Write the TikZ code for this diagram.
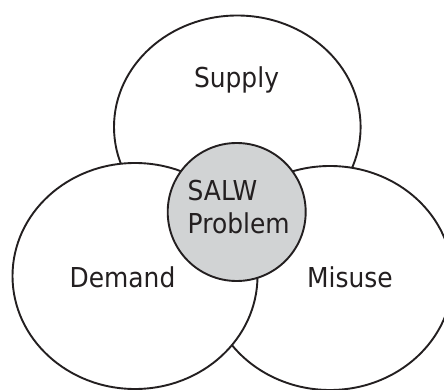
\documentclass[tikz,border=0pt]{standalone}
\usepackage{fontspec}
\setmainfont{DejaVu Sans}[FakeStretch=0.91]
\usetikzlibrary{shapes.geometric}
\definecolor{ink}{HTML}{231F20}
\definecolor{core}{HTML}{D1D3D4}
\tikzset{
  blob/.style={ellipse, draw=ink, fill=white, line width=1.9pt, inner sep=0pt},
  hub/.style={circle, draw=ink, fill=core, line width=1.9pt, inner sep=0pt, minimum size=138pt},
  lbl/.style={inner sep=0pt, text=ink, font=\fontsize{27.4}{33}\selectfont}
}
\begin{document}
\begin{tikzpicture}[x=1pt,y=-1pt]
\useasboundingbox (0,0) rectangle (444,390);
\clip (0,0) rectangle (444,390);
\node[blob, minimum width=246.6pt, minimum height=223pt] (supply) at (237.3,127) {};
\node[blob, minimum width=245pt, minimum height=224pt] (misuse) at (330,278) {};
\node[blob, minimum width=245pt, minimum height=226pt] (demand) at (135,276) {};
\node[hub] (salw) at (236.7,212) {};
\node[lbl, anchor=base] (tsupply) at (236.5,88) {Supply};
\node[lbl, anchor=base] (tdemand) at (122.5,287) {Demand};
\node[lbl, anchor=base] (tmisuse) at (350,287) {Misuse};
\node[lbl, anchor=north west, align=left] (tsalw) at (187.5,180) {SALW\\Problem};
\end{tikzpicture}
\end{document}
